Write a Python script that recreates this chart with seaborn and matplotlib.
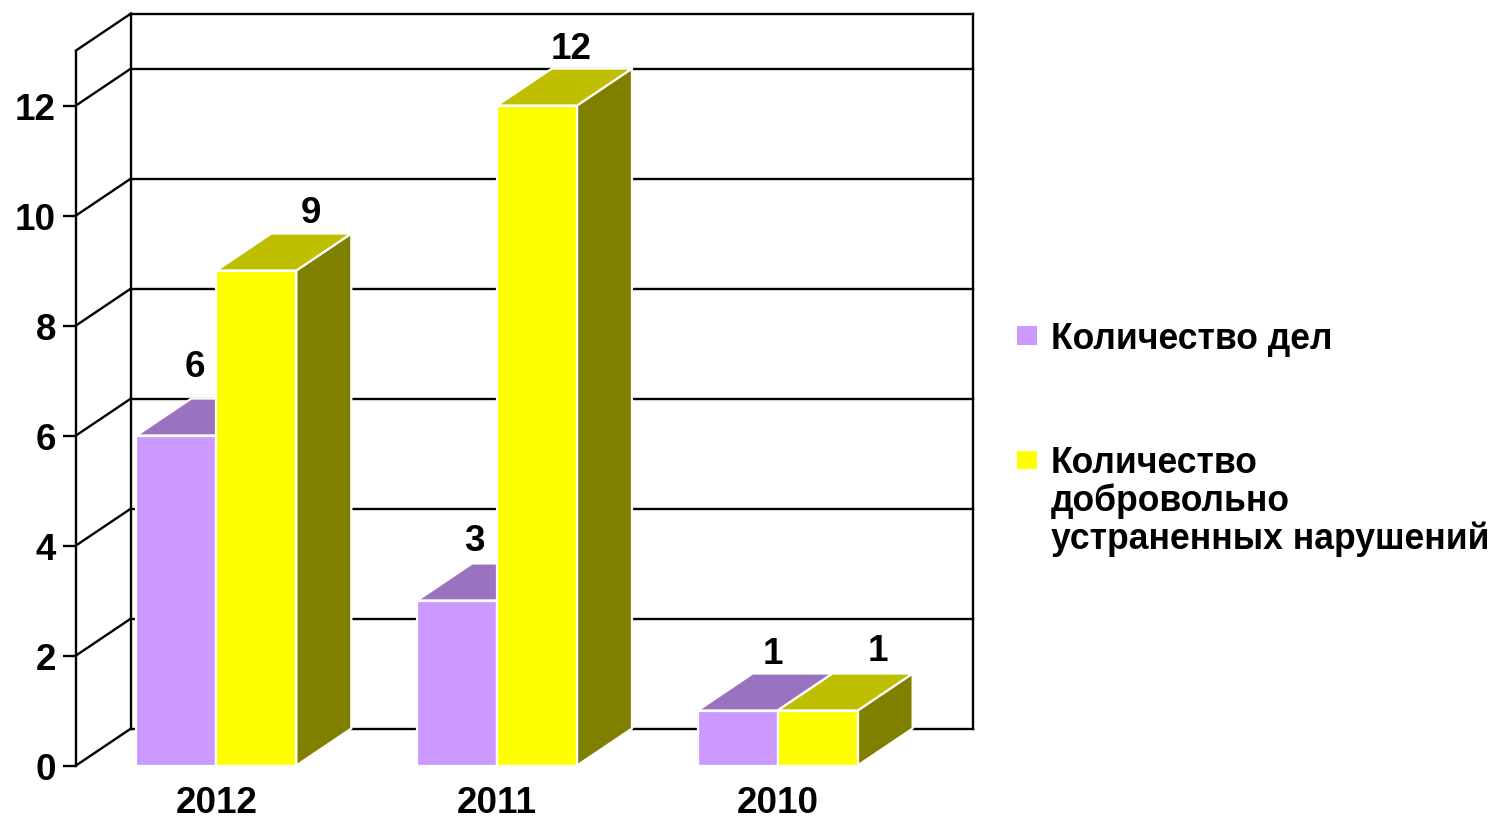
import matplotlib
matplotlib.use("Agg")
import matplotlib.pyplot as plt
import pandas as pd
import seaborn as sns
from matplotlib.patches import Polygon

years = ["2012", "2011", "2010"]
cases = [6, 3, 1]
fixed = [9, 12, 1]
series_cases = "Количество дел"
series_fixed = "Количество\nдобровольно\nустраненных нарушений"
y_ticks = [0, 2, 4, 6, 8, 10, 12]

front_colors = ["#CC99FF", "#FFFF00"]
top_colors = ["#9973BF", "#BFBF00"]
side_colors = ["#664D80", "#808000"]
label_offsets_px = [[(19, 69), (17, 60), (35, 57)], [(55, 58), (34, 57), (60, 60)]]

W, H = 1493, 820
sns.set_theme(style="white")
plt.rcParams["font.family"] = ["Liberation Sans", "DejaVu Sans"]
plt.rcParams["font.weight"] = "bold"
FS = 26.5
LEG_FS = 25.6
PX = 72 / 100

fig = plt.figure(figsize=(W / 100, H / 100), dpi=100)
ax = fig.add_axes([76 / W, 53.5 / H, 842 / W, 715 / H])

df = pd.DataFrame({
    "year": years * 2,
    "count": cases + fixed,
    "series": [series_cases] * 3 + [series_fixed] * 3,
})
sns.barplot(data=df, x="year", y="count", hue="series", order=years,
            hue_order=[series_cases, series_fixed], palette=front_colors,
            width=0.57, gap=0, saturation=1, edgecolor="white", linewidth=1.6,
            ax=ax, zorder=5)
ax.set_xlim(-0.5, 2.5)
ax.set_ylim(0, 13)
ax.set_xlabel("")
ax.set_ylabel("")
ax.set_yticks(y_ticks)

dx, dy = 55 / 280.67, 37 / 55
x0, x1 = ax.get_xlim()
ytop = ax.get_ylim()[1]
lw = 1.7
line = dict(color="black", lw=lw, clip_on=False, zorder=1, solid_capstyle="projecting")

# back wall, side wall and horizontal gridlines
for v in y_ticks:
    ax.plot([x0, x0 + dx], [v, v + dy], **line)
    if v:
        ax.plot([x0 + dx, x1 + dx], [v + dy, v + dy], **line)
ax.plot([x0 + dx, x1 + dx], [dy, dy], **line)
ax.plot([x0, x0 + dx], [ytop, ytop + dy], **line)
ax.plot([x0 + dx, x1 + dx], [ytop + dy, ytop + dy], **line)
ax.plot([x0 + dx, x0 + dx], [dy, ytop + dy], **line)
ax.plot([x1 + dx, x1 + dx], [dy, ytop + dy], **line)

# 3-D faces derived from the seaborn bars
for s, container in enumerate(ax.containers):
    for k, bar in enumerate(container):
        a, w, h = bar.get_x(), bar.get_width(), bar.get_height()
        b = a + w
        side = Polygon([(b, 0), (b + dx, dy), (b + dx, h + dy), (b, h)],
                       fc=side_colors[s], ec="white", lw=1.6, clip_on=False, zorder=3 + s * 0.1)
        top = Polygon([(a, h), (b, h), (b + dx, h + dy), (a + dx, h + dy)],
                      fc=top_colors[s], ec="white", lw=1.6, clip_on=False, zorder=3 + s * 0.1)
        ax.add_patch(side)
        ax.add_patch(top)
        ox, oy = label_offsets_px[s][k]
        ax.annotate(f"{int(h)}", (a + w / 2, h), xytext=(ox * PX, oy * PX),
                    textcoords="offset points", ha="center", va="center",
                    fontsize=FS, fontweight="bold", color="black", zorder=6)

for name, sp in ax.spines.items():
    sp.set_visible(name == "left")
ax.spines["left"].set_color("black")
ax.spines["left"].set_linewidth(lw)
ax.tick_params(axis="y", length=13 * PX, width=lw, color="black", pad=7 * PX, left=True,
               labelsize=FS, labelcolor="black")
ax.tick_params(axis="x", length=0, pad=20 * PX, labelsize=FS, labelcolor="black")
for t in ax.get_xticklabels() + ax.get_yticklabels():
    t.set_fontweight("bold")

handles, labels = ax.get_legend_handles_labels()
ax.get_legend().remove()
leg = fig.legend(handles, labels, loc="upper left", bbox_to_anchor=(1017 / W, 1 - 322 / H),
                 frameon=False, borderpad=0, borderaxespad=0,
                 prop={"family": "Liberation Sans", "weight": "bold", "size": LEG_FS},
                 handlelength=0.57, handleheight=0.42, handletextpad=0.38, labelspacing=2.5)
for t in leg.get_texts():
    t.set_linespacing(1.09)
    t.set_color("black")
for p in leg.get_patches():
    p.set_edgecolor("none")
# the swatch of the three-line entry sits beside its first line
multi = leg.get_patches()[1]
multi.set_y(multi.get_y() + 41 * PX)

fig.savefig("out.png", dpi=100, facecolor="white")
